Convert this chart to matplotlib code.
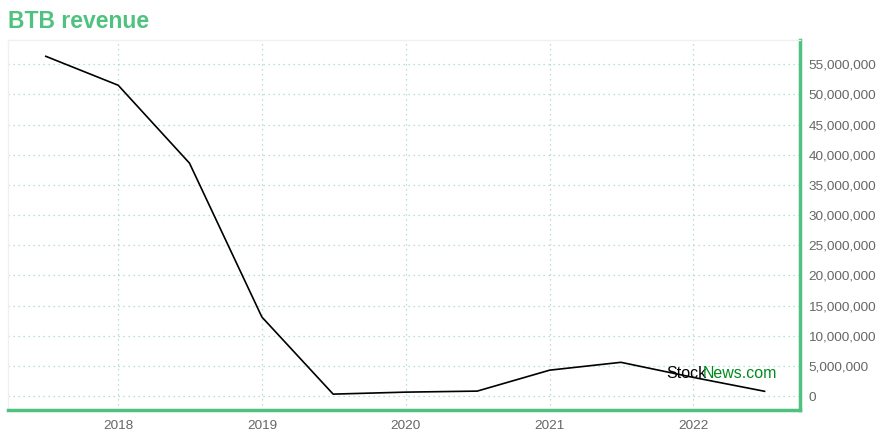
import matplotlib
matplotlib.use("Agg")
import matplotlib.pyplot as plt
import matplotlib.ticker as mticker
import pandas as pd

dates = ["2017-07-01", "2018-01-01", "2018-07-01", "2019-01-01", "2019-07-01",
         "2020-01-01", "2020-07-01", "2021-01-01", "2021-07-01", "2022-01-01",
         "2022-07-01"]
revenue = [56300000, 51500000, 38600000, 13100000, 330000,
           660000, 830000, 4300000, 5600000, 3100000, 800000]
year_ticks = ["2018", "2019", "2020", "2021", "2022"]
title = "BTB revenue"

GREEN = "#50c27f"
GRID = "#a0dcb6"
TICKC = "#666666"

plt.rcParams["font.family"] = ["Liberation Sans", "DejaVu Sans"]

x = pd.to_datetime(dates)
fig = plt.figure(figsize=(8.8, 4.4), dpi=100)
ax = fig.add_axes([8 / 880, 30 / 440, 792 / 880, 370 / 440])
ax.plot(x, revenue, color="black", lw=1.2)

ax.set_xlim(pd.Timestamp("2017-03-27"), pd.Timestamp("2022-09-29"))
ax.set_ylim(-2300000, 59000000)
ax.yaxis.tick_right()
ax.yaxis.set_major_locator(mticker.MultipleLocator(5000000))
ax.yaxis.set_major_formatter(mticker.FuncFormatter(lambda v, p: f"{int(v):,}"))
ax.set_xticks(pd.to_datetime([y + "-01-01" for y in year_ticks]))
ax.set_xticklabels(year_ticks)
ax.tick_params(axis="both", length=0, labelsize=9.7, colors=TICKC, pad=7)
ax.tick_params(axis="y", pad=6)

ax.grid(True, color=GRID, linestyle=(0, (1, 3)), lw=0.9)
for s in ["top", "left"]:
    ax.spines[s].set_color("#f0f0f0")
    ax.spines[s].set_linewidth(1)
ax.spines["right"].set_color(GREEN)
ax.spines["right"].set_linewidth(2.5)
ax.spines["bottom"].set_color(GREEN)
ax.spines["bottom"].set_linewidth(2.5)

fig.text(8 / 880, 1 - 22 / 440, title, color=GREEN, fontsize=16.5, fontweight="bold",
         va="center", ha="left")
fig.text(666 / 880, 1 - 373 / 440, "Stock", color="black", fontsize=11.5,
         va="center", ha="left")
fig.text(703 / 880, 1 - 373 / 440, "News.com", color="#008a1e", fontsize=11.5,
         va="center", ha="left")

fig.savefig("out.png", dpi=100)
